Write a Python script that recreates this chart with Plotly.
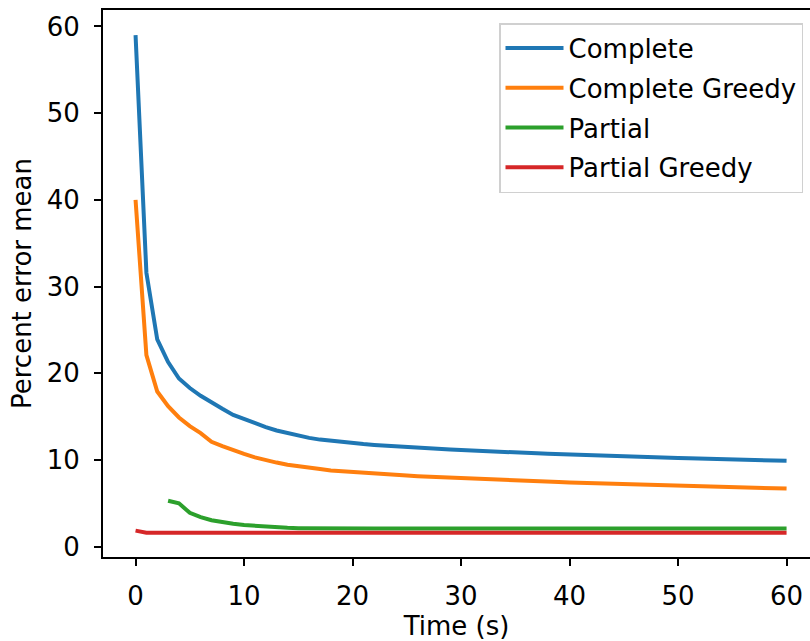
import plotly.graph_objects as go

t_full = list(range(0, 61))

complete = [59.0, 31.6, 23.9, 21.3, 19.4, 18.3, 17.4, 16.6, 15.9, 15.2,
            14.7, 14.2, 13.8, 13.4, 13.1, 12.8, 12.55, 12.35, 12.2, 12.05,
            11.93, 11.83, 11.73, 11.64, 11.56, 11.48, 11.4, 11.33, 11.26, 11.2,
            11.15, 11.08, 11.02, 10.97, 10.92, 10.87, 10.82, 10.77, 10.72, 10.67,
            10.62, 10.58, 10.54, 10.5, 10.46, 10.42, 10.38, 10.34, 10.3, 10.26,
            10.22, 10.19, 10.16, 10.13, 10.1, 10.07, 10.04, 10.01, 9.98, 9.95,
            9.9]

complete_greedy = [40.0, 22.1, 17.9, 16.2, 14.9, 13.9, 13.1, 12.1, 11.6, 11.1,
                   10.7, 10.3, 9.95, 9.7, 9.45, 9.25, 9.1, 8.95, 8.8, 8.7,
                   8.6, 8.5, 8.42, 8.35, 8.27, 8.2, 8.13, 8.07, 8.0, 7.95,
                   7.9, 7.85, 7.8, 7.75, 7.7, 7.65, 7.6, 7.55, 7.5, 7.45,
                   7.4, 7.37, 7.34, 7.31, 7.28, 7.22, 7.18, 7.14, 7.1, 7.05,
                   7.0, 6.97, 6.94, 6.91, 6.88, 6.85, 6.82, 6.79, 6.76, 6.73,
                   6.7]

t_partial = list(range(3, 61))
partial = [5.3, 5.0, 3.9, 3.4, 3.05, 2.8, 2.65, 2.5, 2.4, 2.3,
           2.22, 2.17, 2.14, 2.12] + [2.1] * 44

partial_greedy = [1.85, 1.62] + [1.62] * 59

series = [
    ("Complete", t_full, complete, "#1f77b4"),
    ("Complete Greedy", t_full, complete_greedy, "#ff7f0e"),
    ("Partial", t_partial, partial, "#2ca02c"),
    ("Partial Greedy", t_full, partial_greedy, "#d62728"),
]

x_ticks = [0, 10, 20, 30, 40, 50, 60]
y_ticks = [0, 10, 20, 30, 40, 50, 60]

FONT = "DejaVu Sans"
fig = go.Figure()
for name, xs, ys, col in series:
    fig.add_trace(go.Scatter(x=xs, y=ys, mode="lines", name=name, legendgroup=name,
                             line=dict(color=col, width=4)))

W, H = 810, 641
L, T, B = 103, 10, 557
fig.update_layout(
    width=W, height=H,
    margin=dict(l=L, r=0, t=T, b=H - B, pad=0),
    paper_bgcolor="white", plot_bgcolor="white",
    font=dict(family=FONT, size=26, color="black"),
    showlegend=True,
    legend=dict(x=(803 - L) / (W - L), y=1 - (23 - T) / (B - T), xanchor="right", yanchor="top",
                bgcolor="white", bordercolor="#d0d0d0", borderwidth=1.5,
                font=dict(family=FONT, size=26, color="black"),
                itemwidth=58, tracegroupgap=3),
    xaxis=dict(range=[-3, 62.16], tickvals=x_ticks, showgrid=False, zeroline=False,
               showline=True, mirror=True, linecolor="black", linewidth=2,
               ticks="outside", ticklen=7, tickwidth=2, tickcolor="black",
               ticklabelstandoff=8,
               title=dict(text="Time (s)", standoff=6, font=dict(size=26))),
    yaxis=dict(range=[-1.19, 61.9], tickvals=y_ticks, showgrid=False, zeroline=False,
               showline=True, mirror=False, linecolor="black", linewidth=2,
               ticks="outside", ticklen=7, tickwidth=2, tickcolor="black",
               ticklabelstandoff=9,
               title=dict(text="Percent error mean", standoff=8, font=dict(size=26))),
)

fig.write_html("out.html")
